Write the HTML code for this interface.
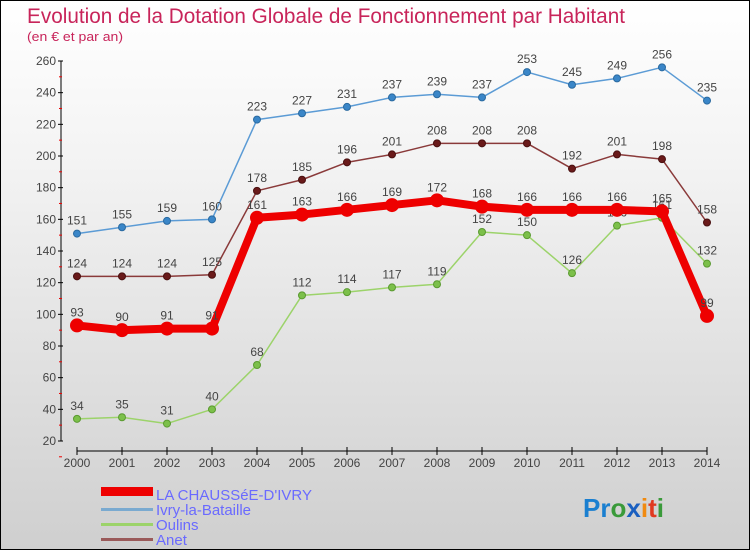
<!DOCTYPE html>
<html><head><meta charset="utf-8"><style>
body{margin:0}
#c{width:748px;height:548px;border:1px solid #000;background:linear-gradient(#fff,#f3f3f3 30%,#cfcfcf);position:relative;font-family:"Liberation Sans",sans-serif;overflow:hidden}
svg{position:absolute;left:0;top:0}
</style></head><body>
<div id="c">
<svg id="s" width="750" height="550">
<text x="26" y="22" font-size="21" fill="#c8245a" textLength="598" lengthAdjust="spacingAndGlyphs">Evolution de la Dotation Globale de Fonctionnement par Habitant</text>
<text x="26" y="40" font-size="13" fill="#c8245a" textLength="96" lengthAdjust="spacingAndGlyphs">(en € et par an)</text>
<g>
<rect x="100" y="486" width="52" height="9" fill="#e00"/>
<text x="155" y="499" font-size="15" fill="#6a6aff">LA CHAUSSéE-D'IVRY</text>
<rect x="100" y="507" width="52" height="3" fill="#7aaad0"/>
<text x="155" y="514" font-size="15" fill="#6a6aff">Ivry-la-Bataille</text>
<rect x="100" y="522" width="52" height="3" fill="#9cd36a"/>
<text x="155" y="529" font-size="15" fill="#6a6aff">Oulins</text>
<rect x="100" y="537" width="52" height="3" fill="#9a5a5a"/>
<text x="155" y="544" font-size="15" fill="#6a6aff">Anet</text>
</g>
<text x="582" y="516" font-size="26" font-weight="bold"><tspan fill="#1a7fd0">Pr</tspan><tspan fill="#3a9a3a">o</tspan><tspan fill="#1a5fc0">x</tspan><tspan fill="#f08a10">i</tspan><tspan fill="#e03a20">t</tspan><tspan fill="#3a9a3a">i</tspan></text>
</svg>
</div>
<script>
const years=[2000,2001,2002,2003,2004,2005,2006,2007,2008,2009,2010,2011,2012,2013,2014];
const yTicks=[20,40,60,80,100,120,140,160,180,200,220,240,260];
const ivry=[151,155,159,160,223,227,231,237,239,237,253,245,249,256,235];
const anet=[124,124,124,125,178,185,196,201,208,208,208,192,201,198,158];
const oulins=[34,35,31,40,68,112,114,117,119,152,150,126,156,161,132];
const chaussee=[93,90,91,91,161,163,166,169,172,168,166,166,166,165,99];
const NS="http://www.w3.org/2000/svg",svg=document.getElementById('s');
const X=i=>76+i*45, Y=v=>440-(v-20)*380/240;
function mk(t,a,name){const e=document.createElementNS(NS,t);for(const k in a)e.setAttribute(k,a[k]);


svg.appendChild(e);return e;}
mk('line',{x1:60,y1:60,x2:60,y2:440,stroke:'#000'},'y-axis');
yTicks.forEach(v=>{mk('line',{x1:57,y1:Y(v),x2:62,y2:Y(v),stroke:'#000'},'y-tick');
const t=mk('text',{x:55,y:Y(v)+4,'font-size':12,fill:'#444','text-anchor':'end'},'y-tick-label');t.textContent=v;
mk('line',{x1:58,y1:Y(v)+15.8,x2:61,y2:Y(v)+15.8,stroke:'#e00'},'y-minor-tick');});
mk('line',{x1:76,y1:450,x2:706,y2:450,stroke:'#000'},'x-axis');
years.forEach((y,i)=>{mk('line',{x1:X(i),y1:446,x2:X(i),y2:454,stroke:'#000'},'x-tick');
const t=mk('text',{x:X(i),y:466,'font-size':12,fill:'#444','text-anchor':'middle'},'x-tick-label');t.textContent=y;});
function series(d,col,dot,w,r,name,lc){
mk('polyline',{points:d.map((v,i)=>X(i)+','+Y(v)).join(' '),fill:'none',stroke:col,'stroke-width':w,'stroke-linejoin':'round'},name+'-line');
d.forEach((v,i)=>{mk('circle',{cx:X(i),cy:Y(v),r:r,fill:dot,stroke:lc,'stroke-width':1},name+'-point');
const t=mk('text',{x:X(i),y:Y(v)-9,'font-size':12,fill:'#444','text-anchor':'middle'},name+'-value-label');t.textContent=v;});}
series(ivry,'#5b9bd5','#3a86c8',1.5,3.5,'ivry','#2a6aa0');
series(anet,'#8a3a3a','#6a1a1a',1.5,3.5,'anet','#4a1010');
series(oulins,'#9cd36a','#7cc04a',1.5,3.5,'oulins','#5a9a30');
series(chaussee,'#ee0000','#ee0000',8,6.5,'la-chaussee','#e00');
</script>
</body></html>
